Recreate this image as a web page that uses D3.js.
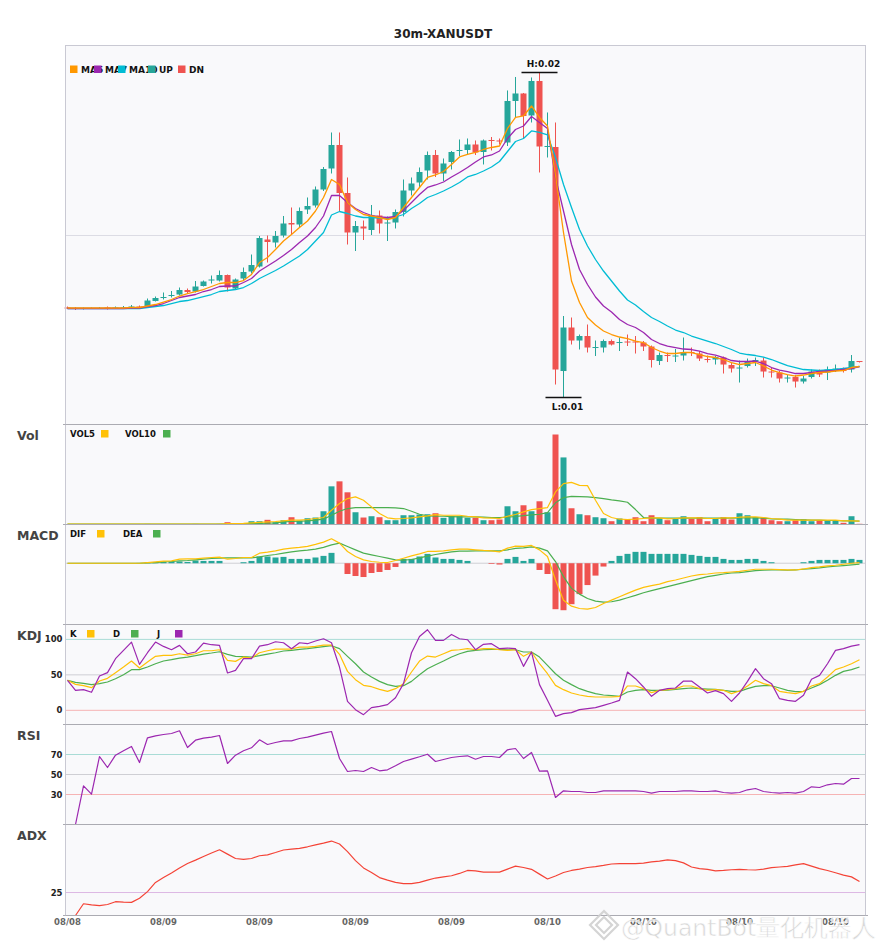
<!DOCTYPE html>
<html>
<head>
<meta charset="utf-8">
<script src="https://d3js.org/d3.v7.min.js"></script>
<style>
  body { margin: 0; background: #fff; }
  text { font-family: "DejaVu Sans", sans-serif; }
</style>
</head>
<body>
<script>
// prices are kept in units of 1e-5 USDT
const unit = 1e-5;
const open = [1355,1354,1353,1353,1353,1355,1353,1354,1356,1357,
  1358,1368,1375,1378,1381,1390,1387,1398,1409,1409,
  1420,1393,1413,1427,1437,1491,1485,1499,1524,1521,
  1551,1559,1591,1633,1680,1584,1505,1517,1510,1539,
  1523,1525,1546,1589,1605,1629,1660,1623,1646,1668,
  1670,1681,1666,1690,1689,1685,1768,1783,1739,1808,
  1676,1676,1228,1315,1289,1298,1274,1275,1288,1284,
  1287,1287,1285,1277,1248,1260,1257,1259,1266,1263,
  1252,1251,1255,1240,1233,1238,1248,1249,1227,1225,
  1213,1216,1207,1216,1228,1225,1231,1233,1231,1248];
const high = [1357,1356,1355,1355,1356,1357,1357,1358,1360,1359,
  1373,1377,1385,1388,1395,1393,1408,1409,1419,1429,
  1421,1413,1435,1461,1498,1499,1508,1538,1555,1555,
  1575,1597,1636,1705,1705,1615,1528,1529,1560,1549,
  1537,1551,1611,1615,1635,1667,1670,1653,1668,1691,
  1693,1689,1691,1696,1693,1789,1816,1784,1815,1825,
  1745,1725,1338,1335,1301,1321,1289,1291,1291,1295,
  1301,1298,1288,1279,1265,1265,1272,1295,1275,1268,
  1259,1258,1257,1244,1249,1253,1255,1255,1235,1228,
  1220,1220,1218,1231,1231,1237,1241,1235,1260,1248];
const low = [1352,1350,1351,1352,1352,1351,1352,1353,1354,1354,
  1355,1367,1371,1375,1379,1383,1385,1397,1403,1407,
  1387,1391,1410,1423,1435,1445,1475,1495,1501,1515,
  1542,1555,1588,1623,1548,1481,1468,1490,1500,1503,
  1488,1513,1537,1579,1596,1611,1616,1608,1631,1658,
  1660,1660,1641,1669,1681,1678,1735,1693,1725,1625,
  1655,1201,1175,1281,1271,1265,1258,1265,1279,1268,
  1278,1263,1268,1235,1240,1246,1246,1249,1258,1248,
  1245,1241,1223,1225,1205,1235,1238,1215,1215,1205,
  1205,1195,1203,1213,1216,1210,1226,1225,1225,1245];
const close = [1354,1353,1354,1354,1354,1353,1355,1355,1357,1355,
  1369,1374,1376,1380,1390,1386,1397,1407,1411,1420,
  1395,1411,1426,1440,1494,1486,1498,1523,1521,1548,
  1558,1591,1632,1680,1584,1505,1518,1513,1538,1523,
  1525,1546,1589,1603,1626,1660,1623,1643,1666,1670,
  1681,1665,1689,1688,1687,1768,1783,1738,1808,1677,
  1678,1231,1315,1289,1298,1275,1276,1288,1281,1286,
  1285,1285,1277,1250,1260,1258,1259,1266,1264,1253,
  1250,1256,1241,1233,1235,1246,1250,1227,1225,1213,
  1215,1207,1213,1227,1221,1231,1233,1228,1248,1246];

const ma5 = [1354,1354,1354,1354,1354,1354,1354,1354,1355,1355,
  1358,1361,1366,1371,1378,1383,1387,1391,1397,1403,
  1405,1405,1409,1421,1445,1455,1471,1488,1501,1515,
  1528,1548,1575,1611,1601,1565,1551,1541,1538,1535,
  1531,1535,1555,1575,1595,1615,1620,1627,1641,1656,
  1661,1665,1671,1675,1678,1713,1735,1738,1758,1735,
  1718,1620,1505,1408,1365,1335,1320,1308,1301,1296,
  1293,1288,1285,1275,1268,1263,1263,1265,1265,1261,
  1257,1255,1251,1245,1241,1243,1245,1238,1230,1225,
  1221,1218,1220,1223,1225,1226,1228,1229,1235,1237];
const ma7 = [1353,1353,1353,1353,1353,1353,1353,1353,1354,1354,
  1357,1359,1363,1369,1375,1378,1381,1387,1391,1397,
  1398,1398,1405,1413,1428,1438,1448,1459,1471,1485,
  1498,1515,1538,1579,1579,1565,1553,1545,1539,1536,
  1535,1537,1549,1565,1581,1595,1600,1606,1616,1625,
  1635,1646,1656,1660,1668,1693,1711,1718,1737,1725,
  1713,1615,1548,1481,1431,1401,1376,1358,1346,1331,
  1321,1315,1305,1291,1283,1278,1275,1272,1271,1268,
  1263,1260,1255,1249,1247,1247,1248,1243,1235,1230,
  1227,1223,1223,1225,1227,1228,1229,1231,1233,1237];
const ma10 = [1353,1353,1353,1353,1353,1353,1353,1353,1353,1353,
  1355,1357,1359,1363,1367,1369,1373,1377,1381,1387,
  1389,1391,1395,1403,1413,1421,1429,1438,1448,1458,
  1471,1488,1505,1540,1547,1543,1538,1535,1535,1534,
  1533,1536,1541,1553,1563,1575,1581,1588,1596,1605,
  1616,1621,1628,1636,1647,1667,1687,1693,1708,1705,
  1700,1655,1601,1555,1511,1478,1451,1428,1408,1388,
  1370,1360,1347,1335,1327,1318,1310,1305,1298,1293,
  1288,1283,1277,1271,1264,1261,1259,1256,1251,1245,
  1239,1235,1231,1230,1229,1230,1231,1233,1235,1237];

const volume = [5,3,2,2,3,3,2,3,4,3,
  6,5,4,4,5,4,6,5,4,6,
  23,10,15,33,33,47,23,43,73,37,
  63,70,133,383,433,323,123,70,83,73,
  43,43,93,93,100,103,113,67,83,83,
  67,67,43,43,50,183,133,193,133,233,
  123,903,673,163,103,93,73,63,33,60,
  53,73,33,93,60,43,57,83,57,73,
  33,63,73,50,113,93,73,67,43,33,
  33,43,53,33,43,43,43,17,83,7];
const vol5 = [3,3,3,3,3,3,3,3,3,3,
  4,4,5,5,5,5,5,5,5,5,
  8,10,12,16,21,26,30,37,45,43,
  50,60,70,143,210,260,277,243,177,110,
  67,57,60,67,77,87,100,93,93,93,
  83,77,67,63,60,83,100,127,150,160,
  170,327,410,423,393,390,243,110,70,53,
  50,53,60,67,67,57,60,67,67,67,
  60,60,67,67,73,77,77,70,60,53,
  43,43,43,43,43,43,43,37,37,33];
const vol10 = [3,3,3,3,3,3,3,3,3,3,
  3,4,4,4,4,4,5,5,5,5,
  6,7,8,9,10,13,17,27,30,33,
  37,43,53,93,133,160,170,170,170,170,
  170,167,160,133,103,87,83,83,80,77,
  77,77,73,70,70,73,80,90,97,103,
  120,217,270,283,280,277,270,260,247,237,
  223,150,70,63,63,63,63,63,63,63,
  63,63,63,63,67,67,67,63,57,53,
  53,50,47,43,43,40,40,37,37,33];

const dif = [0,0,0,0,0,0,0,0,0,0,
  0.7,1.3,2,2.3,4,4.3,4.3,5,5.7,6,
  4,4.7,5.7,5.7,10,11,12.3,14,15,15.7,
  16.7,18.7,21,24.3,20,11.7,6.7,3.3,1.7,1,
  0.7,2.7,5,7.3,9.3,11.7,11.7,12.3,13.3,14,
  14,13.3,12.7,12.3,11.3,15,17,16.7,17.7,13.3,
  6.7,-16.7,-36.7,-42.7,-45,-45.7,-44,-40,-36.7,-33.3,
  -30,-26.7,-24,-22.3,-20.7,-18.3,-16.7,-14.7,-12.7,-11.3,
  -10.7,-9.7,-9.3,-8.7,-8,-7,-6,-6,-6,-6.3,
  -6.7,-6.7,-5.7,-4.3,-3.7,-2.7,-2,-1,0,0.7];
const dea = [0,0,0,0,0,0,0,0,0,0,
  0.3,0.7,1.3,1.7,2.3,2.7,3.3,4,4.7,5,
  5.3,5.3,5.3,5.3,6.3,7.7,8.7,10,11.3,12.3,
  13,14,15.7,18.3,20,16.7,13.3,10,8.3,6.7,
  5,3.3,3,3.7,5.3,7,8.7,10,11.3,12,
  12,12.3,12.3,12.3,12.3,13.3,14.7,15.3,16.3,15,
  12.3,1.7,-13.3,-25,-30.7,-35,-37.7,-38.7,-38.3,-36.7,
  -34.3,-32,-29.3,-27.3,-25.3,-23.3,-21.3,-19.3,-17.3,-15.3,
  -13.3,-12,-10.7,-9.7,-9.3,-8.3,-7.3,-7,-6.7,-6.7,
  -7,-6.7,-6,-5.3,-4.7,-3.7,-3,-2.3,-1.7,-1];
const macdHist = [0,0,0,0,0,0,0,0,0,0.3,
  0.7,1,1.3,1.7,1.7,1.3,2.7,2.3,2.3,2.3,
  0,0,1,2.3,6.7,6.7,5.7,6.3,4.3,4.3,
  4.3,5.7,7.3,10.3,0,-10.7,-12.7,-13.7,-9.7,-8.7,
  -6.7,-3.7,4.3,4.3,6.7,9.3,5.7,4.3,4.3,3.3,
  2.3,0,0,-0.7,-1.3,4.3,6.3,2.3,4.3,-6.7,
  -10.7,-45.7,-46.7,-40.7,-30.7,-21.7,-12.3,-3.3,2.3,7.3,
  9.3,11.3,11.3,9.3,9.3,9.3,9.3,9.3,8.3,7.3,
  6.3,6.3,4.3,3.3,3.3,4.3,4.3,2.3,1,0,
  0,0,1,2.3,3.3,3.3,3.3,3.3,4.3,3.3];

const kLine = [42.3,36.6,34.7,31.9,41.3,45.1,53.1,61,69.5,59.6,
  68.1,76.1,77.5,77.5,79.8,77.9,79.8,84,84,85.4,
  70.4,69,75.1,73.7,81.2,84,86.4,86.4,86.4,89.2,
  89.2,90.1,92,92,78.9,54.9,43.2,35.2,33.3,29.6,
  26.8,30.5,37.6,54,69.5,76.5,75.1,79.8,84.5,85.4,
  86.9,85.4,86.9,86.9,85.4,84.5,85.4,76.1,82.2,65.7,
  51.6,35.2,29.1,24.4,21.6,19.7,18.8,18.8,18.8,19.7,
  34.3,34.3,30.5,24.9,28.2,29.1,30.5,34.3,34.3,30.5,
  28.2,29.1,28.2,23.5,27.2,34.3,42.3,37.6,34.7,26.8,
  24.9,23.5,26.8,34.3,37.6,47,57.3,61,65.7,71.4];
const dLine = [42.3,39.4,38,36.2,37.6,39.9,44.6,50.2,57.3,57.3,
  61,65.7,69.5,71.4,73.7,75.1,77,79.3,80.8,82.6,
  78.9,76.1,75.6,75.1,77,79.3,81.2,83.6,84.5,85.9,
  86.9,88.3,89.7,91.1,86.9,76.1,65.7,54,46.9,40.8,
  36.2,33.8,34.7,40.8,50.2,58.7,64.3,69.5,75.1,79.8,
  83.1,84.5,85.4,85.9,85.9,85.4,85.4,82.2,82.2,75.1,
  63.4,51.6,42.3,36.2,30.5,26.8,23.5,21.6,20.7,19.7,
  25.8,28.2,29.1,28.2,28.2,28.6,29.6,30.5,31.5,30.5,
  30,29.6,28.2,26.8,26.8,30.5,33.8,34.7,34.7,31.5,
  28.2,26.3,26.8,31.5,36.2,42.3,49.3,54.9,57.3,61];
const jLine = [42.3,28.2,29.1,25.4,48.4,53.1,72.8,84.5,96.2,64.8,
  81.2,96.2,90.1,85.4,91.6,79.8,82.2,94.8,92.5,91.6,
  52.6,56.3,72.8,72.8,90.6,92.5,96.7,95.3,86.9,95.3,
  93.9,97.7,100.9,95.3,61,12.7,0.9,-6.1,3.8,5.6,
  8,17.8,37.6,81.2,104.2,113.6,98.6,98.6,107,100.9,
  99.5,85.4,93,93.9,86.9,87.8,86.9,62,82.2,36.2,
  14.1,-8.5,-4.7,-3.3,0.9,2.3,3.8,7,10.3,14.1,
  54,44.6,32.9,19.7,28.2,30.5,31.5,41.3,41.3,32.9,
  24.4,27.7,23.5,12.7,24.4,40.8,58.7,44.6,37.6,16.4,
  14.1,12.7,21.1,43.7,49.3,65.7,84.5,86.9,90.6,92.5];

const rsi = [0,0,38.7,30.3,68,57,69.3,73.7,78,62,
  86.7,88.7,90,91,93.7,77,84.3,86.3,87.3,89,
  61,69.3,73.7,76.7,84.7,80,82,83.7,83.7,86,
  87.3,89.3,91.3,93,66,53,54,53,57,53.7,
  54.7,58.7,63,65.3,67.7,70.3,63,65,67,68,
  68.7,65.3,68,68,67,74.7,76,66,72,53.3,
  53.7,27,33.7,33,33,32,32,33.7,33.7,33.7,
  33.7,33.7,33,31.3,33,33,33,33.7,33.7,33,
  33,33.7,32,31.3,32,34.7,36,33,32,31.3,
  32,31.3,33,37.7,37,39.7,41,40.3,46,46];

const adx = [15,15,20.1,19.6,19.3,19.8,21,20.8,20.7,22.5,
  25.4,29.4,31.5,33.5,35.7,37.6,39.1,40.7,42.2,43.6,
  41.7,39.8,39.4,39.8,41,41.4,42.4,43.5,43.9,44.2,
  44.9,45.7,46.5,47.4,46.1,42.8,38.9,35.7,33.7,31.5,
  30.4,29.4,28.9,28.9,29.4,30.4,31.3,31.8,32.3,33.3,
  34.6,34.4,33.9,33.9,33.9,35.2,36.5,35.9,35.1,33,
  30.9,32.2,33.7,34.6,35.2,35.9,36.3,36.8,37.4,37.6,
  37.6,37.6,37.8,38.3,38.7,39.2,38.9,37.9,36.1,35.4,
  35.1,34.4,34.6,34.9,35.1,34.9,34.8,35.2,35.8,36.1,
  36.4,37,37.6,36.5,35.4,34.6,33.6,32.6,31.8,29.8];

const tickIdx = [0, 12, 24, 36, 48, 60, 72, 84, 96];
const tickLabels = ["08/08","08/09","08/09","08/09","08/09","08/10","08/10","08/10","08/10"];

const UP = "#26a69a", DN = "#ef5350";

const svg = d3.select("body").append("svg")
    .attr("width", 885)
    .attr("height", 950);

const left = 65.5, right = 865.5;
const P = {
  main: [45.5, 424.5], vol: [424.5, 524.5], macd: [524.5, 624.5],
  kdj: [624.5, 724.5], rsi: [724.5, 824.5], adx: [824.5, 915.5]
};

const n = close.length;
const x = d3.scaleBand().domain(d3.range(n)).range([63.5, 863.5]);
const xc = i => x(i) + x.bandwidth() / 2;
const bw = 6;

// panel backgrounds
Object.values(P).forEach(([t, b]) => {
  svg.append("rect").attr("x", left).attr("y", t)
    .attr("width", right - left).attr("height", b - t).attr("fill", "#f9f9fb");
});

svg.append("text").attr("x", 443).attr("y", 38).attr("text-anchor", "middle")
  .attr("font-size", 12).attr("font-weight", "bold").attr("fill", "#222")
  .text("30m-XANUSDT");

function hline(y, color) {
  svg.append("line").attr("x1", left).attr("x2", right)
    .attr("y1", y).attr("y2", y).attr("stroke", color).attr("stroke-width", 1);
}
function drawLine(data, y, color, w) {
  svg.append("path").datum(data)
    .attr("fill", "none").attr("stroke", color).attr("stroke-width", w || 1.2)
    .attr("stroke-linejoin", "round")
    .attr("d", d3.line().x((d, i) => xc(i)).y(d => y(d)));
}

// ---- main price panel ----
const hiIdx = d3.maxIndex(high), loIdx = d3.minIndex(low);
const span = (high[hiIdx] - low[loIdx]) * unit;
const yP = d3.scaleLinear()
    .domain([low[loIdx] * unit - span * 0.083, high[hiIdx] * unit + span * 0.083])
    .range([P.main[1], P.main[0]]);

yP.ticks(2).forEach(t => hline(Math.round(yP(t)) + 0.5, "#dcdce4"));

const candles = svg.append("g").selectAll("g").data(d3.range(n)).join("g")
  .attr("fill", i => close[i] >= open[i] ? UP : DN)
  .attr("stroke", i => close[i] >= open[i] ? UP : DN);
candles.append("line")
  .attr("x1", i => xc(i)).attr("x2", i => xc(i))
  .attr("y1", i => yP(high[i] * unit)).attr("y2", i => yP(low[i] * unit))
  .attr("stroke-width", 1);
candles.append("rect")
  .attr("x", i => xc(i) - bw / 2).attr("width", bw)
  .attr("y", i => yP(Math.max(open[i], close[i]) * unit))
  .attr("height", i => Math.max(1, Math.abs(yP(open[i] * unit) - yP(close[i] * unit))))
  .attr("stroke", "none");

drawLine(ma10.map(v => v * unit), yP, "#00bcd4", 1.3);
drawLine(ma7.map(v => v * unit), yP, "#9c27b0", 1.3);
drawLine(ma5.map(v => v * unit), yP, "#ff9800", 1.3);

const fmt2 = d3.format(".2f");
[[hiIdx, high[hiIdx], "H:", -5], [loIdx, low[loIdx], "L:", 12]].forEach(([i, v, p, dy]) => {
  const yy = yP(v * unit);
  svg.append("line").attr("x1", xc(i) - 18).attr("x2", xc(i) + 18)
    .attr("y1", yy).attr("y2", yy).attr("stroke", "#111").attr("stroke-width", 1.3);
  svg.append("text").attr("x", xc(i) + 4).attr("y", yy + dy).attr("text-anchor", "middle")
    .attr("font-size", 9).attr("font-weight", "bold").attr("fill", "#111")
    .text(p + fmt2(v * unit));
});

const mainLegend = [
  {c: "#ff9800", t: "MA5", x: 70}, {c: "#9c27b0", t: "MA7", x: 94},
  {c: "#00bcd4", t: "MA10", x: 118}, {c: UP, t: "UP", x: 148}, {c: DN, t: "DN", x: 178}
];
mainLegend.forEach(d => {
  svg.append("rect").attr("x", d.x).attr("y", 65.5).attr("width", 7.5).attr("height", 7.5).attr("fill", d.c);
  svg.append("text").attr("x", d.x + 11).attr("y", 72.5).attr("font-size", 9)
    .attr("font-weight", "bold").attr("fill", "#111").text(d.t);
});

// ---- volume ----
const yV = d3.scaleLinear().domain([0, d3.max(volume) / 0.9]).range([P.vol[1], P.vol[0]]);
svg.append("g").selectAll("rect").data(volume).join("rect")
  .attr("x", (d, i) => xc(i) - bw / 2).attr("width", bw)
  .attr("y", d => yV(d)).attr("height", d => yV(0) - yV(d))
  .attr("fill", (d, i) => close[i] >= open[i] ? UP : DN);
drawLine(vol10, yV, "#4caf50");
drawLine(vol5, yV, "#ffc107");

// ---- MACD ----
const mLo = d3.min([...dif, ...dea, ...macdHist]), mHi = d3.max([...dif, ...dea, ...macdHist]);
const mPad = (mHi - mLo) * 0.2;
const yM = d3.scaleLinear().domain([mLo - mPad, mHi + mPad]).range([P.macd[1], P.macd[0]]);
hline(yM(0), "#cfcfd4");
svg.append("g").selectAll("rect").data(macdHist).join("rect")
  .attr("x", (d, i) => xc(i) - bw / 2).attr("width", bw)
  .attr("y", d => Math.min(yM(0), yM(d))).attr("height", d => Math.abs(yM(d) - yM(0)))
  .attr("fill", d => d >= 0 ? UP : DN);
drawLine(dea, yM, "#4caf50");
drawLine(dif, yM, "#ffc107");

// ---- KDJ ----
const yK = d3.scaleLinear().domain([-20, 121]).range([P.kdj[1], P.kdj[0]]);
hline(yK(100), "#a9dcd6"); hline(yK(50), "#cfcfd4"); hline(yK(0), "#f6b4b4");
drawLine(dLine, yK, "#4caf50");
drawLine(kLine, yK, "#ffc107");
drawLine(jLine, yK, "#9c27b0");

// ---- RSI ----
const yR = d3.scaleLinear().domain([0, 100]).range([P.rsi[1], P.rsi[0]]);
hline(yR(70), "#a9dcd6"); hline(yR(50), "#cfcfd4"); hline(yR(30), "#f6b4b4");
drawLine(rsi, yR, "#9c27b0");

// ---- ADX ----
const yA = d3.scaleLinear().domain([15, 54.6]).range([P.adx[1], P.adx[0]]);
hline(yA(25), "#ddb8e4");
drawLine(adx, yA, "#f44336");

// tick labels
const tickText = (y, label) => svg.append("text").attr("x", 62.5).attr("y", y + 3)
  .attr("text-anchor", "end").attr("font-size", 8.5).attr("font-weight", "bold")
  .attr("fill", "#222").text(label);
[0, 50, 100].forEach(v => tickText(yK(v), v));
[30, 50, 70].forEach(v => tickText(yR(v), v));
tickText(yA(25), 25);

// panel borders
svg.append("rect").attr("x", left).attr("y", P.main[0]).attr("width", right - left)
  .attr("height", P.adx[1] - P.main[0]).attr("fill", "none").attr("stroke", "#c9c9d3");
[P.vol[0], P.macd[0], P.kdj[0], P.rsi[0], P.adx[0], P.adx[1]].forEach(y => {
  hline(y, "#ababb2");
  svg.append("line").attr("x1", left - 2.5).attr("x2", left).attr("y1", y).attr("y2", y).attr("stroke", "#ababb2");
  svg.append("line").attr("x1", right).attr("x2", right + 2.5).attr("y1", y).attr("y2", y).attr("stroke", "#ababb2");
});

// panel titles and legends
const panelNames = [["Vol", P.vol], ["MACD", P.macd], ["KDJ", P.kdj], ["RSI", P.rsi], ["ADX", P.adx]];
panelNames.forEach(([t, p]) => {
  svg.append("text").attr("x", 17).attr("y", p[0] + 15).attr("font-size", 12.5)
    .attr("font-weight", "bold").attr("fill", "#444").text(t);
});
const subLegends = [
  [P.vol, [{t: "VOL5", x: 70, s: 101, c: "#ffc107"}, {t: "VOL10", x: 125, s: 163, c: "#4caf50"}]],
  [P.macd, [{t: "DIF", x: 70, s: 97, c: "#ffc107"}, {t: "DEA", x: 123, s: 153, c: "#4caf50"}]],
  [P.kdj, [{t: "K", x: 70, s: 87, c: "#ffc107"}, {t: "D", x: 113, s: 131, c: "#4caf50"}, {t: "J", x: 157, s: 175, c: "#9c27b0"}]]
];
subLegends.forEach(([p, items]) => {
  items.forEach(d => {
    svg.append("text").attr("x", d.x).attr("y", p[0] + 12.5).attr("font-size", 8.5)
      .attr("font-weight", "bold").attr("fill", "#111").text(d.t);
    svg.append("rect").attr("x", d.s).attr("y", p[0] + 5.5).attr("width", 7.5).attr("height", 7.5).attr("fill", d.c);
  });
});

// x axis labels
tickIdx.forEach((i, k) => {
  svg.append("text").attr("x", xc(i)).attr("y", 925).attr("text-anchor", "middle")
    .attr("font-size", 8.5).attr("font-weight", "bold").attr("fill", "#666").text(tickLabels[k]);
});

// watermark (drawn over the axis, as in the source image)
const wm = svg.append("g").attr("opacity", 0.9);
[14, 8].forEach(r => {
  wm.append("rect").attr("x", 604 - r / 1.414).attr("y", 925 - r / 1.414)
    .attr("width", r * 1.414).attr("height", r * 1.414)
    .attr("transform", "rotate(45,604,925)")
    .attr("fill", "none").attr("stroke", "#d0d0d0").attr("stroke-width", 2.2);
});
wm.append("text").attr("x", 621).attr("y", 936).attr("font-size", 23.5)
  .attr("font-family", "'Noto Sans CJK SC', 'DejaVu Sans', sans-serif")
  .attr("fill", "#d4d4d4").attr("stroke", "#fff").attr("stroke-width", 0.6)
  .text("@QuantBot量化机器人");
</script>
</body>
</html>
